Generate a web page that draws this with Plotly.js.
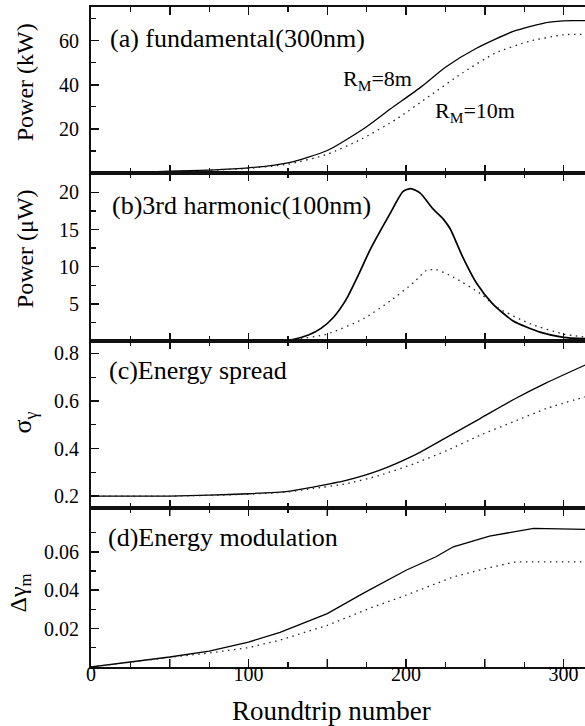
<!DOCTYPE html>
<html>
<head>
<meta charset="utf-8">
<script src="https://cdn.plot.ly/plotly-3.0.1.min.js"></script>
<style>html,body{margin:0;padding:0;background:#fff;}#chart{width:585px;height:726px;}</style>
</head>
<body>
<div id="chart"></div>
<script>
// (a) fundamental power (kW)
const roundA8 = [0,25,50,75,100,125,150,175,190,210,225,245,268,290,305,315];
const powerA8 = [0.1,0.3,0.8,1.3,2.3,4.6,10.2,21,29,39.3,48,56.7,64.2,68.3,69.1,69.1];
const roundA10 = [0,25,50,75,100,125,150,172,194,215,236,257,278,300,315];
const powerA10 = [0.1,0.3,0.7,1.2,2.1,4.0,8.5,15.5,24.5,35,45.5,54.5,59.7,62.7,62.9];
// (b) 3rd harmonic power (uW)
const roundB8 = [0,118,128,138,146,154,162,170,177,190,198,203,209,217,224,228,236,245,255,268,285,300,315];
const powerB8 = [0,0,0.2,0.8,1.7,3.2,5.6,9.0,12.2,17.2,20.1,20.5,19.9,17.8,16.3,15.1,11.3,7.7,5.0,2.7,1.2,0.5,0.3];
const roundB10 = [0,120,130,150,173,190,205,213,219,230,247,258,279,300,315];
const powerB10 = [0,0,0.2,0.95,3.0,5.4,7.9,9.5,9.6,8.6,6.4,4.5,2.3,0.95,0.5];
// (c) energy spread
const roundC8 = [0,50,75,100,125,141,162,183,205,226,247,268,289,315];
const sigmaC8 = [0.2,0.2,0.204,0.21,0.22,0.238,0.266,0.308,0.371,0.448,0.526,0.605,0.676,0.755];
const roundC10 = [0,50,100,125,141,162,183,205,226,247,268,289,315];
const sigmaC10 = [0.2,0.2,0.208,0.218,0.232,0.252,0.287,0.336,0.392,0.456,0.512,0.568,0.62];
// (d) energy modulation
const roundD8 = [0,25,50,75,100,120,150,173,200,219,230,253,281,315];
const modD8 = [0,0.0026,0.0052,0.0083,0.013,0.018,0.0278,0.0385,0.0504,0.0574,0.0626,0.0682,0.0722,0.0717];
const roundD10 = [0,25,50,75,100,120,150,179,200,230,253,270,315];
const modD10 = [0,0.0026,0.005,0.0073,0.0101,0.014,0.0217,0.0313,0.0374,0.0469,0.0518,0.0548,0.0548];

const seriesNames = ['R_M=8m','R_M=10m'];
const xLabelVals = [0,100,200,300];
const xLabelText = ['0','100','200','300'];

const FONT = 'Liberation Serif, serif';
const solid = {color:'#000', width:1.3, dash:'solid'};
const dotted = {color:'#222', width:1.3, dash:'1.5px,4.5px'};

function tr(x, y, xa, ya, line, name, shape){
  return {x:x, y:y, xaxis:xa, yaxis:ya, type:'scatter', mode:'lines', name:name,
          line:Object.assign({shape:shape, smoothing:0.6}, line), showlegend:false, hoverinfo:'skip'};
}
const data = [
  tr(roundA8, powerA8, 'x', 'y', solid, seriesNames[0], 'spline'),
  tr(roundA10, powerA10, 'x', 'y', dotted, seriesNames[1], 'spline'),
  tr(roundB8, powerB8, 'x2', 'y2', Object.assign({}, solid, {width:1.7}), seriesNames[0], 'spline'),
  tr(roundB10, powerB10, 'x2', 'y2', dotted, seriesNames[1], 'spline'),
  tr(roundC8, sigmaC8, 'x3', 'y3', solid, seriesNames[0], 'spline'),
  tr(roundC10, sigmaC10, 'x3', 'y3', dotted, seriesNames[1], 'spline'),
  tr(roundD8, modD8, 'x4', 'y4', solid, seriesNames[0], 'linear'),
  tr(roundD10, modD10, 'x4', 'y4', dotted, seriesNames[1], 'linear')
];

const tickStyle = {ticks:'inside', tickcolor:'#111'};
function xax(anchor){
  return Object.assign({anchor:anchor, domain:[0,1], range:[0,313.6], showgrid:false, zeroline:false,
    showline:true, linecolor:'#111', linewidth:2, mirror:'allticks',
    ticklen:8, tickwidth:1.5, tickmode:'linear', tick0:0, dtick:50,
    showticklabels:false,
    minor:{tickmode:'linear', tick0:25, dtick:50, ticks:'inside', ticklen:5, tickwidth:1.2, tickcolor:'#111'}}, tickStyle);
}
function yax(anchor, domain, range, tv, tt, minorVals){
  return Object.assign({anchor:anchor, domain:domain, range:range, showgrid:false, zeroline:false,
    showline:true, linecolor:'#111', linewidth:2, mirror:false,
    ticklen:8, tickwidth:1.5,
    tickmode:'array', tickvals:tv, ticktext:tt, ticklabelstandoff:6,
    tickfont:{family:FONT, size:20, color:'#000'},
    minor:{tickmode:'array', tickvals:minorVals, ticks:'inside', ticklen:5, tickwidth:1.2, tickcolor:'#111'}}, tickStyle);
}

// long ticks at 50,150,250 on the labelled bottom panel (bottom and mirrored top)
const halfTicks = [50,150,250];
const tickFrac = 8 / (0.2409 * 660);
const shapes = [];
halfTicks.forEach(v => {
  shapes.push({type:'line', xref:'x4', yref:'y4 domain', x0:v, x1:v, y0:0, y1:tickFrac, line:{color:'#111', width:1.5}});
  shapes.push({type:'line', xref:'x4', yref:'y4 domain', x0:v, x1:v, y0:1-tickFrac, y1:1, line:{color:'#111', width:1.5}});
});

const layout = {
  width:585, height:726, paper_bgcolor:'#fff', plot_bgcolor:'#fff',
  margin:{l:91, r:0, t:7, b:59},
  font:{family:FONT, color:'#000'},
  xaxis: xax('y'),
  xaxis2: Object.assign(xax('y2'), {matches:'x'}),
  xaxis3: Object.assign(xax('y3'), {matches:'x'}),
  xaxis4: Object.assign(xax('y4'), {matches:'x', tickmode:'array', tickvals:xLabelVals, ticktext:xLabelText,
    showticklabels:true, ticklabelstandoff:-12, tickfont:{family:FONT, size:20, color:'#000'},
    minor:{tickmode:'array', tickvals:[25,50,75,125,150,175,225,250,275], ticks:'inside', ticklen:5, tickwidth:1.2, tickcolor:'#111'}}),
  yaxis: yax('x', [0.7485,1],[0,75.3],[20,40,60],['20','40','60'],[10,30,50,70]),
  yaxis2: yax('x2', [0.4939,0.7485],[0,22.6],[5,10,15,20],['5','10','15','20'],[2.5,7.5,12.5,17.5,22.5]),
  yaxis3: yax('x3', [0.2409,0.4939],[0.15,0.852],[0.2,0.4,0.6,0.8],['0.2','0.4','0.6','0.8'],[0.3,0.5,0.7]),
  yaxis4: yax('x4', [0,0.2409],[0,0.0828],[0.02,0.04,0.06],['0.02','0.04','0.06'],[0.01,0.03,0.05,0.07]),
  shapes: shapes,
  annotations: [
    {text:'(a) fundamental(300nm)', xref:'paper', yref:'paper', x:0.0344, y:0.953, xanchor:'left', yanchor:'middle', showarrow:false, font:{family:FONT, size:26}},
    {text:'(b)3rd harmonic(100nm)', xref:'paper', yref:'paper', x:0.0385, y:0.700, xanchor:'left', yanchor:'middle', showarrow:false, font:{family:FONT, size:26}},
    {text:'(c)Energy spread', xref:'paper', yref:'paper', x:0.0324, y:0.450, xanchor:'left', yanchor:'middle', showarrow:false, font:{family:FONT, size:26}},
    {text:'(d)Energy modulation', xref:'paper', yref:'paper', x:0.0304, y:0.1955, xanchor:'left', yanchor:'middle', showarrow:false, font:{family:FONT, size:26}},
    {text:'R<sub>M</sub>=8m', xref:'paper', yref:'paper', x:0.506, y:0.889, xanchor:'left', yanchor:'middle', showarrow:false, font:{family:FONT, size:22}},
    {text:'R<sub>M</sub>=10m', xref:'paper', yref:'paper', x:0.692, y:0.841, xanchor:'left', yanchor:'middle', showarrow:false, font:{family:FONT, size:22}},
    {text:'Power (kW)', xref:'paper', yref:'paper', x:-0.1336, y:0.886, xanchor:'center', yanchor:'middle', textangle:-90, showarrow:false, font:{family:FONT, size:24}},
    {text:'Power (μW)', xref:'paper', yref:'paper', x:-0.1336, y:0.633, xanchor:'center', yanchor:'middle', textangle:-90, showarrow:false, font:{family:FONT, size:24}},
    {text:'σ<sub>γ</sub>', xref:'paper', yref:'paper', x:-0.135, y:0.371, xanchor:'center', yanchor:'middle', textangle:-90, showarrow:false, font:{family:FONT, size:26}},
    {text:'Δγ<sub>m</sub>', xref:'paper', yref:'paper', x:-0.143, y:0.112, xanchor:'center', yanchor:'middle', textangle:-90, showarrow:false, font:{family:FONT, size:24}},
    {text:'Roundtrip number', xref:'paper', yref:'paper', x:0.486, y:-0.066, xanchor:'center', yanchor:'middle', showarrow:false, font:{family:FONT, size:27}}
  ]
};
Plotly.newPlot('chart', data, layout, {staticPlot:true, displayModeBar:false});
</script>
</body>
</html>
